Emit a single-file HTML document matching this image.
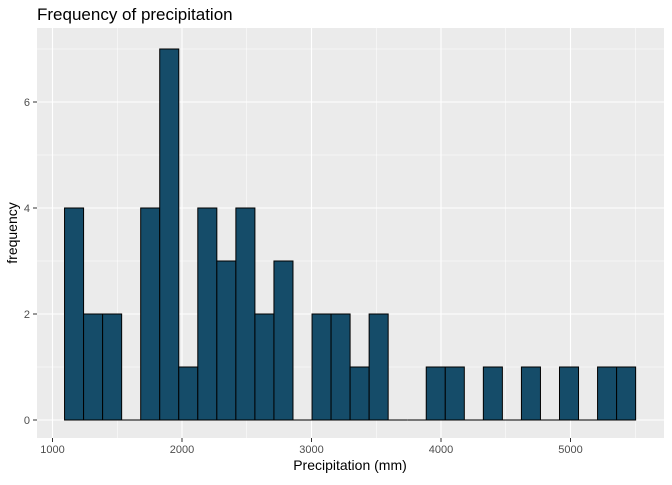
<!DOCTYPE html>
<html><head><meta charset="utf-8"><style>
body{margin:0;background:#fff;}
svg text{font-family:"Liberation Sans",sans-serif;}
</style></head><body>
<svg id="c" width="672" height="480" xmlns="http://www.w3.org/2000/svg">
<text x="37" y="20" font-size="17" fill="#000">Frequency of precipitation</text>
<rect x="37" y="28" width="627" height="410" fill="#ebebeb"/>
<g id="grid"></g><g id="bars"></g><g id="axes"></g>
<text x="350" y="470" font-size="14" text-anchor="middle" fill="#000">Precipitation (mm)</text>
<text transform="translate(17,233) rotate(-90)" font-size="14" text-anchor="middle" fill="#000">frequency</text>
</svg>
<script>
const binStart = 1093;
const binWidth = 147;
const counts = [4,2,2,0,4,7,1,4,3,4,2,3,0,2,2,1,2,0,0,1,1,0,1,0,1,0,1,0,1,1];
const xTicks = [1000,2000,3000,4000,5000];
const yTicks = [0,2,4,6];
const NS="http://www.w3.org/2000/svg";
const X=v=>52.5+(v-1000)*0.1295;
const Y=v=>420-v*53;
function mk(t,a,p){const e=document.createElementNS(NS,t);for(const k in a)e.setAttribute(k,a[k]);p.appendChild(e);return e;}
const grid=document.getElementById('grid'),bars=document.getElementById('bars'),axes=document.getElementById('axes');
for(let v=1;v<=7;v+=2){const l=mk('line',{x1:37,x2:664,y1:Y(v),y2:Y(v),stroke:'#fff','stroke-width':0.5},grid);

}
for(let v=1500;v<=5500;v+=1000){const l=mk('line',{x1:X(v),x2:X(v),y1:28,y2:438,stroke:'#fff','stroke-width':0.5},grid);

}
yTicks.forEach(v=>{const l=mk('line',{x1:37,x2:664,y1:Y(v),y2:Y(v),stroke:'#fff','stroke-width':1.1},grid);


mk('line',{x1:33,x2:37,y1:Y(v),y2:Y(v),stroke:'#333'},axes);
const t=mk('text',{x:30,y:Y(v)+4,'font-size':11,'text-anchor':'end',fill:'#4d4d4d'},axes);t.textContent=v;

});
xTicks.forEach(v=>{const l=mk('line',{x1:X(v),x2:X(v),y1:28,y2:438,stroke:'#fff','stroke-width':1.1},grid);


mk('line',{x1:X(v),x2:X(v),y1:438,y2:442,stroke:'#333'},axes);
const t=mk('text',{x:X(v),y:453,'font-size':11,'text-anchor':'middle',fill:'#4d4d4d'},axes);t.textContent=v;

});
counts.forEach((c,i)=>{const x0=X(binStart+i*binWidth),x1=X(binStart+(i+1)*binWidth);
if(c===0){const l=mk('line',{x1:x0,x2:x1,y1:Y(0),y2:Y(0),stroke:'#000','stroke-width':1},bars);

return;}
const r=mk('rect',{x:x0,y:Y(c),width:x1-x0,height:Y(0)-Y(c),fill:'#154c69',stroke:'#000','stroke-width':1},bars);

});
</script>
</body></html>
